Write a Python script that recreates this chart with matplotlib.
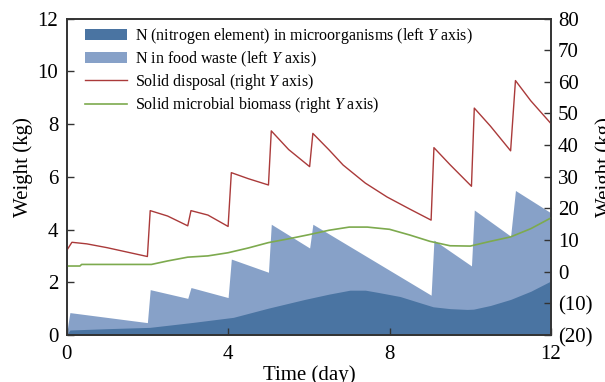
import matplotlib
matplotlib.use("Agg")
import matplotlib.pyplot as plt
from matplotlib.patches import Patch
from matplotlib.lines import Line2D
from matplotlib.ticker import FuncFormatter

# ---------------------------------------------------------------------------
# Data
# ---------------------------------------------------------------------------

# N in food waste (left axis, kg)
waste_t = [0.0, 0.08, 2.0, 2.07, 3.0, 3.08, 4.0, 4.08, 5.0, 5.07,
           6.02, 6.1, 9.03, 9.1, 10.03, 10.1, 11.0, 11.12, 12.0]
waste_n = [0.1, 0.85, 0.47, 1.72, 1.39, 1.8, 1.42, 2.88, 2.38, 4.2,
           3.3, 4.2, 1.51, 3.6, 2.62, 4.74, 3.75, 5.48, 4.63]

# N (nitrogen element) in microorganisms (left axis, kg)
micro_t = [0.0, 0.08, 1.0, 2.06, 3.14, 4.13, 5.0, 5.9, 6.5, 7.02,
           7.4, 7.7, 8.26, 8.7, 9.08, 9.5, 9.92, 10.08, 10.5, 11.0,
           11.5, 12.0]
micro_n = [0.0, 0.19, 0.24, 0.29, 0.48, 0.67, 1.02, 1.35, 1.55, 1.7,
           1.7, 1.62, 1.46, 1.25, 1.07, 1.0, 0.97, 0.98, 1.12, 1.35,
           1.66, 2.05]

# Solid disposal (right axis, kg)
disp_t = [0.0, 0.13, 0.5, 1.0, 1.5, 2.0, 2.07, 2.5, 3.0, 3.08,
          3.5, 4.0, 4.08, 4.5, 5.0, 5.07, 5.5, 6.02, 6.1, 6.5,
          6.85, 7.4, 7.94, 8.5, 9.03, 9.1, 9.5, 10.03, 10.1, 10.5,
          11.0, 11.12, 11.5, 12.0]
disp_w = [6.7, 9.3, 8.8, 7.6, 6.2, 4.8, 19.3, 17.6, 14.5, 19.3,
          17.9, 14.3, 31.3, 29.4, 27.4, 44.5, 38.6, 33.2, 43.7, 38.5,
          33.7, 28.0, 23.6, 19.8, 16.3, 39.2, 33.8, 27.0, 51.7, 46.0,
          38.2, 60.4, 54.0, 46.8]

# Solid microbial biomass (right axis, kg)
bio_t = [0.0, 0.33, 0.37, 2.1, 2.5, 3.0, 3.5, 4.0, 4.5, 5.0,
         5.5, 6.0, 6.5, 7.0, 7.45, 8.0, 8.5, 9.0, 9.5, 10.0,
         10.5, 11.0, 11.5, 12.0]
bio_w = [1.8, 1.8, 2.3, 2.3, 3.4, 4.6, 5.0, 6.0, 7.5, 9.2,
         10.4, 11.7, 13.1, 14.1, 14.1, 13.4, 11.6, 9.6, 8.2, 8.1,
         9.6, 11.0, 13.6, 17.0]

legend_labels = [
    "N (nitrogen element) in microorganisms (left $Y$ axis)",
    "N in food waste (left $Y$ axis)",
    "Solid disposal (right $Y$ axis)",
    "Solid microbial biomass (right $Y$ axis)",
]

DARK_BLUE  = "#4a74a2"
LIGHT_BLUE = "#87a1c8"
RED        = "#aa3a3a"
GREEN      = "#7daa4e"
SPINE      = "#333333"

plt.rcParams["font.family"] = ["Liberation Serif", "DejaVu Serif"]
plt.rcParams["mathtext.fontset"] = "custom"
plt.rcParams["mathtext.rm"] = "Liberation Serif"
plt.rcParams["mathtext.it"] = "Liberation Serif:italic"

fig = plt.figure(figsize=(6.05, 3.82), dpi=100)
ax = fig.add_axes([0.1102, 0.1230, 0.8005, 0.8285])
ax2 = ax.twinx()

ax.fill_between(waste_t, 0, waste_n, color=LIGHT_BLUE, lw=0)
ax.fill_between(micro_t, 0, micro_n, color=DARK_BLUE, lw=0)
ax2.plot(disp_t, disp_w, color=RED, lw=1.0)
ax2.plot(bio_t, bio_w, color=GREEN, lw=1.2)

ax.set_xlim(0, 12)
ax.set_ylim(0, 12)
ax2.set_ylim(-20, 80)
ax.set_xticks([0, 4, 8, 12])
ax.set_yticks(range(0, 13, 2))
ax2.set_yticks(range(-20, 81, 10))
ax2.yaxis.set_major_formatter(
    FuncFormatter(lambda v, _: f"({abs(int(v))})" if v < 0 else f"{int(v)}"))

for a in (ax, ax2):
    for s in a.spines.values():
        s.set_color(SPINE)
        s.set_linewidth(1.2)
ax.tick_params(axis="x", direction="in", length=5, width=1, color=SPINE,
               labelsize=15, pad=7)
ax.tick_params(axis="y", direction="in", length=5, width=1, color=SPINE,
               labelsize=15, pad=6)
ax2.tick_params(axis="y", direction="in", length=5, width=1, color=SPINE,
                labelsize=15, pad=5)

ax.set_xlabel("Time (day)", fontsize=15)
ax.xaxis.set_label_coords(0.5, -0.095)
ax.set_ylabel("Weight (kg)", fontsize=15)
ax.yaxis.set_label_coords(-0.07, 0.53)
ax2.set_ylabel("Weight (kg)", fontsize=15)
ax2.yaxis.set_label_coords(1.091, 0.53)

handles = [
    Patch(facecolor=DARK_BLUE, edgecolor="none"),
    Patch(facecolor=LIGHT_BLUE, edgecolor="none"),
    Line2D([], [], color=RED, lw=1.0),
    Line2D([], [], color=GREEN, lw=1.2),
]
ax2.legend(handles, legend_labels, loc="upper left", frameon=False,
           fontsize=11.5, handlelength=2.6, handletextpad=0.5,
           labelspacing=0.2, borderaxespad=0.0, borderpad=0.0,
           bbox_to_anchor=(0.038, 0.975))

fig.savefig("out.png", dpi=100)
